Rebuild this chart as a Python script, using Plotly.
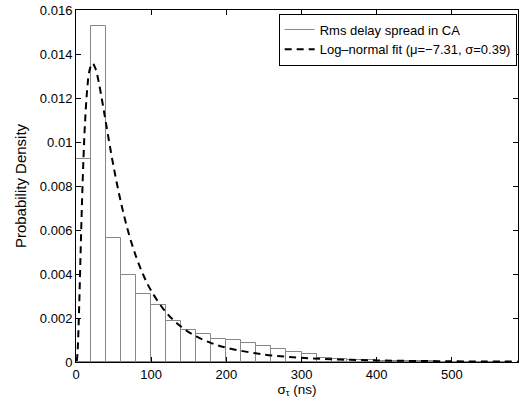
import plotly.graph_objects as go

# histogram of rms delay spread (bin width 20 ns)
bin_left = [0, 20, 40, 60, 80, 100, 120, 140, 160, 180, 200, 220, 240, 260, 280,
            300, 320, 340, 360, 380, 400, 420, 440, 460, 480, 500, 520, 540, 560]
density = [0.00924, 0.01527, 0.00564, 0.00397, 0.00309, 0.00259, 0.00188, 0.00147,
           0.00127, 0.00103, 0.00099, 0.00087, 0.00071, 0.00061, 0.00045, 0.00036,
           0.00020, 0.00014, 0.00010, 0.00007, 0.00005, 0.00004, 0.00003, 0.00003,
           0.00002, 0.00002, 0.00001, 0.00001, 0.00001]
bin_width = 20

# dashed log-normal fit curve
fit_x = [1, 2, 4, 6, 8, 10, 12, 15, 18, 22, 26, 30, 35, 40, 50, 60, 70, 80, 90,
         100, 120, 140, 160, 180, 200, 250, 300, 350, 400, 500, 590]
fit_y = [0.00004, 0.00039, 0.00227, 0.00483, 0.00726, 0.00930, 0.01087, 0.01244,
         0.01326, 0.01358, 0.01333, 0.01276, 0.01183, 0.01083, 0.00888, 0.00722,
         0.00586, 0.00478, 0.00392, 0.00324, 0.00225, 0.00160, 0.00116, 0.00086,
         0.00065, 0.00034, 0.00019, 0.000115, 0.000072, 0.000031, 0.000016]

bar_grey = "rgb(135,135,135)"

fig = go.Figure()
fig.add_trace(go.Bar(
    x=[b + bin_width / 2 for b in bin_left], y=density, width=bin_width,
    marker=dict(color="white", line=dict(color=bar_grey, width=1)),
    showlegend=False,
))
# legend entry for the histogram (MATLAB shows it as a line)
fig.add_trace(go.Scatter(x=[None], y=[None], mode="lines",
                         line=dict(color=bar_grey, width=1),
                         name="Rms delay spread in CA"))
fig.add_trace(go.Scatter(x=fit_x, y=fit_y, mode="lines", line_shape="spline",
                         line=dict(color="black", width=2, dash="7px,5px"),
                         name="Log\u2013normal fit (\u03bc=\u22127.31, \u03c3=0.39)"))

axis_style = dict(showline=True, linecolor="black", linewidth=1, mirror="ticks",
                  ticks="inside", ticklen=5, tickcolor="black", showgrid=False,
                  zeroline=False, tickfont=dict(size=13, color="black"))

fig.update_layout(
    width=520, height=403,
    margin=dict(l=76, r=2, t=10, b=41),
    plot_bgcolor="white", paper_bgcolor="white",
    font=dict(family="Liberation Sans, Arial, sans-serif", size=13, color="black"),
    bargap=0,
    legend=dict(x=0.997, y=0.99, xanchor="right", yanchor="top",
                bordercolor="black", borderwidth=1, bgcolor="white",
                font=dict(size=13), tracegroupgap=0),
    xaxis=dict(range=[0, 588], tickvals=[0, 100, 200, 300, 400, 500],
               title=dict(text="\u03c3<sub>\u03c4</sub> (ns)", standoff=2,
                          font=dict(size=13.5)), **axis_style),
    yaxis=dict(range=[0, 0.016], dtick=0.002,
               title=dict(text="Probability Density", standoff=9,
                          font=dict(size=15)), **axis_style),
)

# drop the default page margin so the 520x403 figure fills the window
fig.write_html("out.html", config={"displayModeBar": False},
               post_script="document.body.style.margin='0';")
